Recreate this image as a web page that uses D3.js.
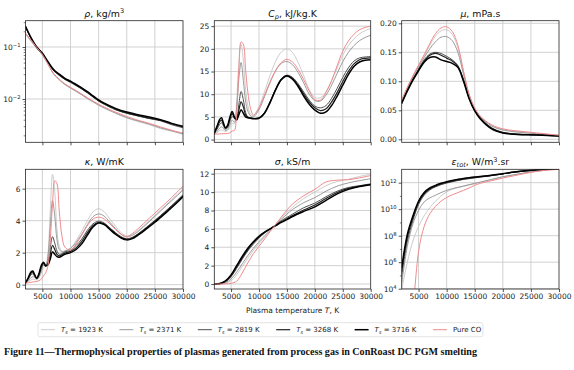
<!DOCTYPE html>
<html><head><meta charset="utf-8">
<script src="https://cdn.jsdelivr.net/npm/d3@7"></script>
<style>
body{margin:0;background:#fff}
svg{display:block}
</style>
</head><body>
<svg id="c" width="574" height="370" font-family="DejaVu Sans, sans-serif"></svg>
<script>
// ---------------- DATA ----------------
const seriesLabels = ["1923", "2371", "2819", "3268", "3716", "Pure CO"];
const xTickValues = [5000, 10000, 15000, 20000, 25000, 30000];

const tempCoarse = [2000,3000,4000,5000,6000,7000,8000,9000,10000,11000,12000,13000,14000,15000,16000,18000,20000,22000,24000,26000,28000,30000];
const tempFine = [2000,2500,3000,3300,3600,4000,4400,4800,5200,5600,6000,6400,6800,7200,7600,8000,8500,9000,10000,11000,12000,13000,14000,15000,16000,17000,18000,19000,20000,21000,22000,23000,24000,25000,26000,27000,28000,29000,30000];

// density, kg/m3 (tempCoarse)
const rhoSeries = [
  [0.175,0.128,0.094,0.070,0.046,0.030,0.0232,0.0188,0.0161,0.0139,0.0119,0.0101,0.0087,0.0075,0.0066,0.0053,0.0043,0.0037,0.0032,0.0027,0.0024,0.0021],
  [0.18,0.131,0.096,0.071,0.047,0.0305,0.0236,0.0191,0.0164,0.0141,0.0121,0.0103,0.0089,0.0077,0.0068,0.0054,0.0044,0.0038,0.0033,0.0028,0.00245,0.00215],
  [0.24,0.144,0.097,0.074,0.050,0.035,0.0284,0.0237,0.0208,0.018,0.0155,0.0131,0.0109,0.0091,0.0079,0.0062,0.0053,0.0047,0.0042,0.0038,0.0032,0.0028],
  [0.245,0.147,0.098,0.075,0.051,0.036,0.0292,0.0243,0.0214,0.0185,0.0159,0.0134,0.0112,0.0093,0.0081,0.0064,0.0054,0.0048,0.0043,0.0039,0.0033,0.0029],
  [0.25,0.15,0.10,0.076,0.052,0.037,0.030,0.025,0.022,0.019,0.0163,0.0138,0.0115,0.0096,0.0083,0.0066,0.0056,0.0050,0.0045,0.0040,0.0034,0.0030],
  [0.185,0.135,0.098,0.072,0.047,0.031,0.024,0.0195,0.0168,0.0145,0.0124,0.0106,0.0091,0.0079,0.0070,0.0056,0.0046,0.0039,0.0034,0.0029,0.0025,0.0022]
];

// specific heat, kJ/kg.K (tempFine)
const cpSeries = [
  [1.2,1.5,2.0,2.1,2.0,1.8,2.0,2.7,3.6,3.5,8.5,17.0,21.0,17.5,11.0,7.5,5.6,5.3,7.2,10.6,14.2,17.3,19.3,20.0,19.2,17.0,14.1,11.0,9.3,9.2,10.6,13.0,15.8,18.6,20.7,22.2,23.3,24.0,24.5],
  [1.2,1.8,2.6,2.8,2.5,2.0,2.3,3.3,4.3,3.8,7.0,13.5,17.0,13.0,8.5,6.3,5.2,5.0,6.6,9.5,12.6,15.2,16.8,17.2,16.5,14.8,12.5,10.0,8.6,8.5,9.8,12.0,14.6,17.2,19.2,20.7,21.8,22.5,23.0],
  [1.3,2.3,3.4,3.7,3.1,2.3,2.7,4.1,5.1,4.6,4.8,7.8,10.6,8.8,6.0,5.0,4.8,4.7,4.8,6.0,8.4,11.2,13.4,14.2,13.7,12.3,10.5,8.7,7.4,7.0,7.5,9.1,11.3,13.7,15.8,17.3,18.0,18.2,18.3],
  [1.4,2.7,4.0,4.3,3.5,2.5,3.0,4.6,5.7,4.8,4.5,6.5,8.3,7.2,5.5,4.9,4.75,4.65,4.75,5.9,8.3,11.1,13.3,14.1,13.5,12.0,10.1,8.3,7.0,6.4,6.8,8.3,10.4,12.8,15.0,16.7,17.6,17.9,18.0],
  [1.5,3.0,4.5,4.8,3.8,2.6,3.2,5.0,6.2,5.0,4.3,5.5,6.6,5.8,5.0,4.8,4.7,4.6,4.7,5.8,8.2,11.0,13.2,14.0,13.3,11.7,9.6,7.8,6.5,5.8,6.1,7.5,9.6,12.0,14.3,16.1,17.1,17.5,17.6],
  [1.2,1.2,1.25,1.3,1.3,1.3,1.35,1.5,1.9,2.0,6.0,15.5,21.5,21.0,15.5,10.5,6.8,5.4,7.0,9.8,12.8,15.3,17.0,17.7,17.1,15.5,13.2,10.7,8.8,8.7,10.4,13.0,16.3,19.5,21.7,23.2,24.2,24.7,25.0]
];

// viscosity, mPa.s (tempCoarse)
const muSeries = [
  [0.067,0.089,0.109,0.127,0.144,0.162,0.178,0.187,0.189,0.181,0.158,0.116,0.077,0.053,0.039,0.024,0.017,0.014,0.012,0.010,0.0085,0.0068],
  [0.066,0.088,0.108,0.125,0.141,0.156,0.168,0.176,0.177,0.170,0.150,0.112,0.076,0.053,0.039,0.023,0.016,0.013,0.011,0.0095,0.008,0.0065],
  [0.064,0.085,0.104,0.121,0.137,0.147,0.150,0.148,0.143,0.137,0.127,0.103,0.072,0.051,0.037,0.020,0.012,0.0095,0.0085,0.0078,0.007,0.006],
  [0.063,0.084,0.103,0.120,0.135,0.145,0.148,0.145,0.140,0.135,0.126,0.102,0.071,0.050,0.036,0.019,0.0115,0.009,0.008,0.0074,0.0066,0.0057],
  [0.062,0.083,0.102,0.118,0.133,0.141,0.142,0.137,0.134,0.131,0.124,0.100,0.070,0.049,0.035,0.018,0.011,0.0085,0.0078,0.0072,0.0064,0.0055],
  [0.068,0.090,0.110,0.128,0.146,0.165,0.182,0.192,0.194,0.186,0.162,0.118,0.078,0.054,0.040,0.025,0.018,0.015,0.013,0.011,0.009,0.007]
];

// thermal conductivity, W/mK (tempFine)
const kappaSeries = [
  [0.1,0.2,0.3,0.35,0.32,0.3,0.42,0.7,1.05,1.2,2.0,4.6,6.9,5.8,3.4,2.4,2.1,2.12,2.3,2.75,3.35,4.0,4.55,4.75,4.55,4.1,3.65,3.25,3.05,3.14,3.38,3.68,4.0,4.33,4.66,4.99,5.32,5.65,5.98],
  [0.1,0.25,0.45,0.5,0.45,0.35,0.5,0.85,1.2,1.2,1.8,3.6,5.25,4.3,2.8,2.2,2.05,2.1,2.25,2.65,3.15,3.75,4.25,4.42,4.28,3.9,3.5,3.15,2.98,3.08,3.32,3.62,3.94,4.27,4.6,4.93,5.25,5.58,5.9],
  [0.1,0.35,0.62,0.68,0.55,0.38,0.6,1.0,1.3,1.15,1.4,2.3,3.0,2.6,2.1,1.9,1.95,2.05,2.15,2.45,2.85,3.4,3.8,3.97,3.85,3.55,3.25,3.0,2.87,2.96,3.18,3.45,3.73,4.02,4.32,4.63,4.95,5.28,5.62],
  [0.1,0.4,0.72,0.78,0.6,0.4,0.65,1.1,1.35,1.15,1.3,1.9,2.45,2.2,1.9,1.8,1.88,1.97,2.08,2.3,2.7,3.25,3.7,3.9,3.8,3.5,3.2,2.95,2.83,2.92,3.14,3.4,3.68,3.96,4.26,4.57,4.89,5.22,5.55],
  [0.1,0.45,0.8,0.85,0.65,0.4,0.7,1.2,1.4,1.2,1.25,1.6,2.05,1.9,1.75,1.72,1.8,1.9,2.0,2.2,2.55,3.1,3.6,3.85,3.75,3.45,3.15,2.92,2.8,2.88,3.1,3.35,3.62,3.9,4.2,4.5,4.82,5.15,5.5],
  [0.1,0.12,0.15,0.17,0.18,0.2,0.25,0.35,0.55,0.75,1.2,2.8,5.0,6.5,6.3,4.6,3.0,2.35,2.15,2.55,3.1,3.7,4.1,4.22,4.1,3.8,3.45,3.15,3.0,3.2,3.5,3.82,4.15,4.47,4.8,5.12,5.45,5.8,6.15]
];

// electrical conductivity, kS/m (tempCoarse)
const sigmaSeries = [
  [0,0.01,0.08,0.35,1.0,1.9,2.8,3.65,4.4,5.1,5.8,6.5,7.2,7.8,8.35,9.3,10.0,10.7,11.15,11.4,11.7,11.95],
  [0,0.02,0.15,0.55,1.3,2.2,3.1,3.9,4.6,5.25,5.85,6.45,7.05,7.6,8.1,8.85,9.4,10.1,10.65,11.0,11.25,11.45],
  [0,0.03,0.25,0.8,1.7,2.7,3.6,4.35,5.0,5.55,6.0,6.45,6.9,7.25,7.6,8.3,8.8,9.5,10.1,10.5,10.7,10.9],
  [0,0.04,0.3,0.9,1.85,2.85,3.75,4.5,5.1,5.6,6.0,6.4,6.8,7.1,7.45,8.05,8.6,9.3,9.95,10.4,10.65,10.85],
  [0,0.05,0.35,1.0,2.0,3.0,3.9,4.6,5.2,5.65,6.0,6.35,6.7,7.0,7.35,7.9,8.4,9.1,9.8,10.3,10.6,10.8],
  [0,0,0.02,0.08,0.3,1.2,2.3,3.3,4.1,4.9,5.7,6.5,7.3,8.05,8.7,9.6,10.3,11.1,11.3,11.35,11.55,11.8]
];

// total emission coefficient, W/m3.sr (tempCoarse)
const epsSeries = [
  [7.94e3,1.0e6,3.98e7,5.01e8,3.16e9,1.26e10,3.98e10,1.0e11,2.0e11,3.16e11,4.17e11,5.25e11,6.61e11,8.32e11,1.05e12,1.66e12,2.69e12,3.80e12,5.37e12,7.24e12,9.12e12,1.02e13],
  [2.51e4,1.58e7,7.94e8,7.94e9,3.55e10,7.08e10,1.12e11,1.78e11,2.63e11,3.55e11,4.47e11,5.62e11,7.08e11,8.91e11,1.12e12,1.78e12,2.82e12,3.98e12,5.62e12,7.59e12,9.33e12,1.05e13],
  [1.0e5,3.98e7,1.41e9,2.24e10,1.12e11,2.82e11,4.79e11,7.08e11,9.33e11,1.17e12,1.45e12,1.74e12,2.0e12,2.29e12,2.63e12,3.39e12,4.57e12,6.03e12,7.59e12,8.91e12,9.77e12,1.05e13],
  [2.0e5,7.94e7,2.24e9,3.16e10,1.41e11,3.31e11,5.50e11,7.94e11,1.05e12,1.32e12,1.58e12,1.91e12,2.19e12,2.51e12,2.82e12,3.55e12,4.68e12,6.17e12,7.76e12,9.12e12,1.0e13,1.07e13],
  [4.0e5,1.26e8,3.16e9,3.98e10,1.78e11,3.98e11,6.31e11,8.91e11,1.17e12,1.48e12,1.78e12,2.09e12,2.40e12,2.69e12,2.95e12,3.63e12,4.79e12,6.31e12,7.94e12,9.33e12,1.05e13,1.12e13],
  [null,null,1.0e2,6.31e6,5.01e8,4.47e9,1.58e10,3.98e10,7.59e10,1.20e11,1.78e11,2.63e11,3.98e11,6.31e11,8.91e11,1.41e12,2.24e12,3.31e12,5.01e12,7.08e12,8.91e12,1.0e13]
];

const captionText = "Figure 11\u2014Thermophysical properties of plasmas generated from process gas in ConRoast DC PGM smelting";

// ---------------- LAYOUT / STYLE ----------------
const svg = d3.select("#c");
const colX = [[25.5,183],[214.3,370.7],[401.7,559]];
const rowY = [[20.7,142.3],[169.3,289]];
const lineStyle = [
  {c:"#c6c6c6", w:0.9},
  {c:"#8e8e8e", w:0.9},
  {c:"#4f4f4f", w:1.0},
  {c:"#222222", w:1.2},
  {c:"#000000", w:1.5},
  {c:"#f08a8c", w:1.0}
];
const TICK_FS = 7.5;
const TITLE_FS = 9.4;
const LEG_FS = 7.0;

function rich(sel, parts, size) {
  let shift = 0;
  parts.forEach(p => {
    const ts = sel.append("tspan").text(p.t);
    const target = p.s === "sub" ? size * 0.22 : p.s === "sup" ? -size * 0.38 : 0;
    if (target - shift !== 0) ts.attr("dy", target - shift);
    shift = target;
    if (p.s) ts.attr("font-size", size * 0.7);
    if (p.i) ts.attr("font-style", "italic");
  });
}

function pow10Label(v) {
  const e = Math.round(Math.log10(v));
  return [{t:"10"}, {t:(e < 0 ? "\u2212" + (-e) : "" + e), s:"sup"}];
}

const panels = [
  {r:0, c:0, title:[{t:"\u03c1", i:1},{t:", kg/m"},{t:"3", s:"sup"}], T:tempCoarse, data:rhoSeries,
   log:true, domain:[0.00147,0.32], yTicks:[0.01,0.1],
   minor:[0.002,0.003,0.004,0.005,0.006,0.007,0.008,0.009,0.02,0.03,0.04,0.05,0.06,0.07,0.08,0.09,0.2,0.3]},
  {r:0, c:1, title:[{t:"C", i:1},{t:"p", s:"sub", i:1},{t:", kJ/kg.K"}], T:tempFine, data:cpSeries,
   domain:[-0.6,26.2], yTicks:[0,5,10,15,20,25], fmt:d3.format("d")},
  {r:0, c:2, title:[{t:"\u03bc", i:1},{t:", mPa.s"}], T:tempCoarse, data:muSeries,
   domain:[-0.0052,0.2045], yTicks:[0,0.05,0.1,0.15,0.2], fmt:d3.format(".2f")},
  {r:1, c:0, title:[{t:"\u03ba", i:1},{t:", W/mK"}], T:tempFine, data:kappaSeries,
   domain:[-0.27,7.21], yTicks:[0,2,4,6], fmt:d3.format("d")},
  {r:1, c:1, title:[{t:"\u03c3", i:1},{t:", kS/m"}], T:tempCoarse, data:sigmaSeries,
   domain:[-0.54,12.48], yTicks:[0,2,4,6,8,10,12], fmt:d3.format("d")},
  {r:1, c:2, title:[{t:"\u03b5", i:1},{t:"tot", s:"sub", i:1},{t:", W/m"},{t:"3", s:"sup"},{t:".sr"}], T:tempCoarse, data:epsSeries,
   log:true, domain:[9.5e3,1.02e13], yTicks:[1e4,1e6,1e8,1e10,1e12],
   minor:[1e5,1e7,1e9,1e11]}
];

panels.forEach((p, pi) => {
  const [x0, x1] = colX[p.c];
  const [y0, y1] = rowY[p.r];
  const x = d3.scaleLinear().domain([2000, 30000]).range([x0, x1]);
  const y = (p.log ? d3.scaleLog() : d3.scaleLinear()).domain(p.domain).range([y1, y0]);
  const g = svg.append("g");

  const clipId = "clip" + pi;
  svg.append("clipPath").attr("id", clipId).append("rect")
    .attr("x", x0).attr("y", y0).attr("width", x1 - x0).attr("height", y1 - y0);

  // grid
  const grid = g.append("g").attr("stroke", "#cccccc").attr("stroke-width", 0.9);
  xTickValues.forEach(t => {
    if (x(t) < x1 - 0.5) grid.append("line").attr("x1", x(t)).attr("x2", x(t)).attr("y1", y0).attr("y2", y1);
  });
  p.yTicks.forEach(t => grid.append("line").attr("x1", x0).attr("x2", x1).attr("y1", y(t)).attr("y2", y(t)));

  // lines
  const line = d3.line()
    .defined(d => d[1] != null)
    .x(d => x(d[0])).y(d => y(d[1]))
    .curve(d3.curveCatmullRom.alpha(0.5));
  const lg = g.append("g").attr("clip-path", `url(#${clipId})`).attr("fill", "none")
    .attr("stroke-linejoin", "round").attr("stroke-linecap", "round");
  p.data.forEach((vals, si) => {
    const pts = p.T.map((t, i) => [t, vals[i]]);
    lg.append("path").attr("d", line(pts))
      .attr("stroke", lineStyle[si].c).attr("stroke-width", lineStyle[si].w);
  });

  // frame
  g.append("rect").attr("x", x0).attr("y", y0).attr("width", x1 - x0).attr("height", y1 - y0)
    .attr("fill", "none").attr("stroke", "#262626").attr("stroke-width", 0.8);

  // x axis
  const xa = g.append("g").attr("transform", `translate(0,${y1})`)
    .call(d3.axisBottom(x).tickValues(xTickValues).tickSize(3).tickPadding(1.5)
      .tickFormat(p.r === 1 ? d3.format("d") : () => ""));
  // y axis
  const ya = g.append("g").attr("transform", `translate(${x0},0)`)
    .call(d3.axisLeft(y).tickValues(p.yTicks).tickSize(3).tickPadding(2)
      .tickFormat(p.log ? () => "" : p.fmt));
  if (p.log) {
    ya.selectAll(".tick text").each(function(d) {
      const t = d3.select(this);
      t.text(null);
      rich(t, pow10Label(d), TICK_FS);
    });
    g.append("g").attr("transform", `translate(${x0},0)`)
      .call(d3.axisLeft(y).tickValues(p.minor.filter(v => v >= p.domain[0] && v <= p.domain[1]))
        .tickSize(1.8).tickFormat(() => ""))
      .call(s => s.select(".domain").remove())
      .selectAll("line").attr("stroke", "#262626").attr("stroke-width", 0.6);
  }
  [xa, ya].forEach(a => {
    a.attr("font-family", null).attr("font-size", null);
    a.select(".domain").remove();
    a.selectAll(".tick line").attr("stroke", "#262626").attr("stroke-width", 0.8);
    a.selectAll(".tick text").attr("font-size", TICK_FS).attr("fill", "#1a1a1a");
  });

  // title
  const tt = svg.append("text").attr("x", (x0 + x1) / 2).attr("y", y0 - 4)
    .attr("text-anchor", "middle").attr("font-size", TITLE_FS).attr("fill", "#111");
  rich(tt, p.title, TITLE_FS);
});

// x label
const xl = svg.append("text").attr("x", (colX[1][0] + colX[1][1]) / 2).attr("y", 312.5)
  .attr("text-anchor", "middle").attr("font-size", TICK_FS).attr("fill", "#1a1a1a");
rich(xl, [{t:"Plasma temperature "},{t:"T", i:1},{t:", K"}], TICK_FS);

// legend
const leg = svg.append("g");
leg.append("rect").attr("x", 38).attr("y", 322.7).attr("width", 445).attr("height", 14)
  .attr("rx", 2).attr("fill", "#fff").attr("stroke", "#dcdcdc").attr("stroke-width", 0.8);
const legStep = 78.4;
seriesLabels.forEach((lab, i) => {
  const lx = 41 + i * legStep;
  leg.append("line").attr("x1", lx).attr("x2", lx + 14).attr("y1", 329.7).attr("y2", 329.7)
    .attr("stroke", lineStyle[i].c).attr("stroke-width", lineStyle[i].w);
  const t = leg.append("text").attr("x", lx + 20).attr("y", 332.2).attr("font-size", LEG_FS).attr("fill", "#1a1a1a");
  if (i < 5) rich(t, [{t:"T", i:1},{t:"s", s:"sub", i:1},{t:" = " + lab + " K"}], LEG_FS);
  else t.text(lab);
});

// caption
svg.append("text").attr("x", 4).attr("y", 354.5)
  .attr("font-family", "Liberation Serif, serif").attr("font-weight", "bold")
  .attr("font-size", 10.8).attr("fill", "#111")
  .attr("textLength", 473).attr("lengthAdjust", "spacingAndGlyphs")
  .text(captionText);
</script>
</body></html>
